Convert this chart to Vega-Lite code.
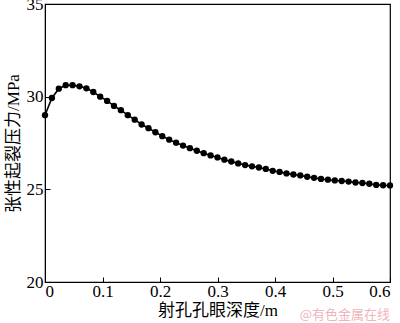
{
  "$schema": "https://vega.github.io/schema/vega-lite/v6.json",
  "width": 345,
  "height": 278,
  "autosize": "none",
  "padding": {"left": 45, "top": 4, "right": 10, "bottom": 41},
  "background": "white",
  "config": {
    "view": {"stroke": "black", "strokeWidth": 1.2},
    "font": "Liberation Serif, Noto Sans CJK SC"
  },
  "data": {
    "values": [
      {"d": 0.000, "p": 29.00}, {"d": 0.012, "p": 29.93}, {"d": 0.024, "p": 30.43},
      {"d": 0.036, "p": 30.62}, {"d": 0.048, "p": 30.62}, {"d": 0.060, "p": 30.56},
      {"d": 0.072, "p": 30.45}, {"d": 0.084, "p": 30.25}, {"d": 0.096, "p": 30.00},
      {"d": 0.108, "p": 29.77}, {"d": 0.120, "p": 29.50}, {"d": 0.132, "p": 29.27},
      {"d": 0.144, "p": 29.00}, {"d": 0.156, "p": 28.76}, {"d": 0.168, "p": 28.50},
      {"d": 0.180, "p": 28.30}, {"d": 0.192, "p": 28.08}, {"d": 0.204, "p": 27.87},
      {"d": 0.216, "p": 27.68}, {"d": 0.228, "p": 27.52}, {"d": 0.240, "p": 27.36},
      {"d": 0.252, "p": 27.22}, {"d": 0.264, "p": 27.08}, {"d": 0.276, "p": 26.95},
      {"d": 0.288, "p": 26.83}, {"d": 0.300, "p": 26.72}, {"d": 0.312, "p": 26.60},
      {"d": 0.324, "p": 26.50}, {"d": 0.336, "p": 26.40}, {"d": 0.348, "p": 26.31},
      {"d": 0.360, "p": 26.24}, {"d": 0.372, "p": 26.18}, {"d": 0.384, "p": 26.10},
      {"d": 0.396, "p": 26.00}, {"d": 0.408, "p": 25.94}, {"d": 0.420, "p": 25.86},
      {"d": 0.432, "p": 25.80}, {"d": 0.444, "p": 25.75}, {"d": 0.456, "p": 25.68},
      {"d": 0.468, "p": 25.62}, {"d": 0.480, "p": 25.56}, {"d": 0.492, "p": 25.52},
      {"d": 0.504, "p": 25.48}, {"d": 0.516, "p": 25.45}, {"d": 0.528, "p": 25.42},
      {"d": 0.540, "p": 25.37}, {"d": 0.552, "p": 25.34}, {"d": 0.564, "p": 25.30},
      {"d": 0.576, "p": 25.24}, {"d": 0.588, "p": 25.22}, {"d": 0.600, "p": 25.21}
    ]
  },
  "layer": [
    {
      "mark": {"type": "line", "color": "black", "strokeWidth": 1.6,
               "point": {"filled": true, "color": "black", "size": 40, "opacity": 1}},
      "encoding": {
        "x": {
          "field": "d", "type": "quantitative",
          "scale": {"domain": [0, 0.6], "nice": false},
          "axis": {
            "title": "射孔孔眼深度/m",
            "values": [0, 0.1, 0.2, 0.3, 0.4, 0.5, 0.6],
            "format": "~g",
            "grid": false, "domainColor": "black", "tickColor": "black",
            "tickSize": -5, "labelPadding": 6,
            "labelFontSize": 17, "labelColor": "black", "labelFont": "Liberation Serif",
            "titleFontSize": 17, "titleFontWeight": "normal", "titleColor": "black",
            "titlePadding": 3
          }
        },
        "y": {
          "field": "p", "type": "quantitative",
          "scale": {"domain": [20, 35], "nice": false, "zero": false},
          "axis": {
            "title": "张性起裂压力/MPa",
            "values": [20, 25, 30, 35],
            "grid": false, "domainColor": "black", "tickColor": "black",
            "tickSize": -5, "labelPadding": 7,
            "labelFontSize": 17, "labelColor": "black", "labelFont": "Liberation Serif",
            "titleFontSize": 17, "titleFontWeight": "normal", "titleColor": "black",
            "titlePadding": 4
          }
        }
      }
    },
    {
      "data": {"values": [{"t": "@有色金属在线"}]},
      "mark": {"type": "text", "align": "right", "baseline": "middle",
               "color": "#f0b4bc", "fontSize": 13, "font": "Noto Sans CJK SC"},
      "encoding": {
        "text": {"field": "t"},
        "x": {"datum": 0.6},
        "y": {"datum": 18.2}
      }
    }
  ]
}
